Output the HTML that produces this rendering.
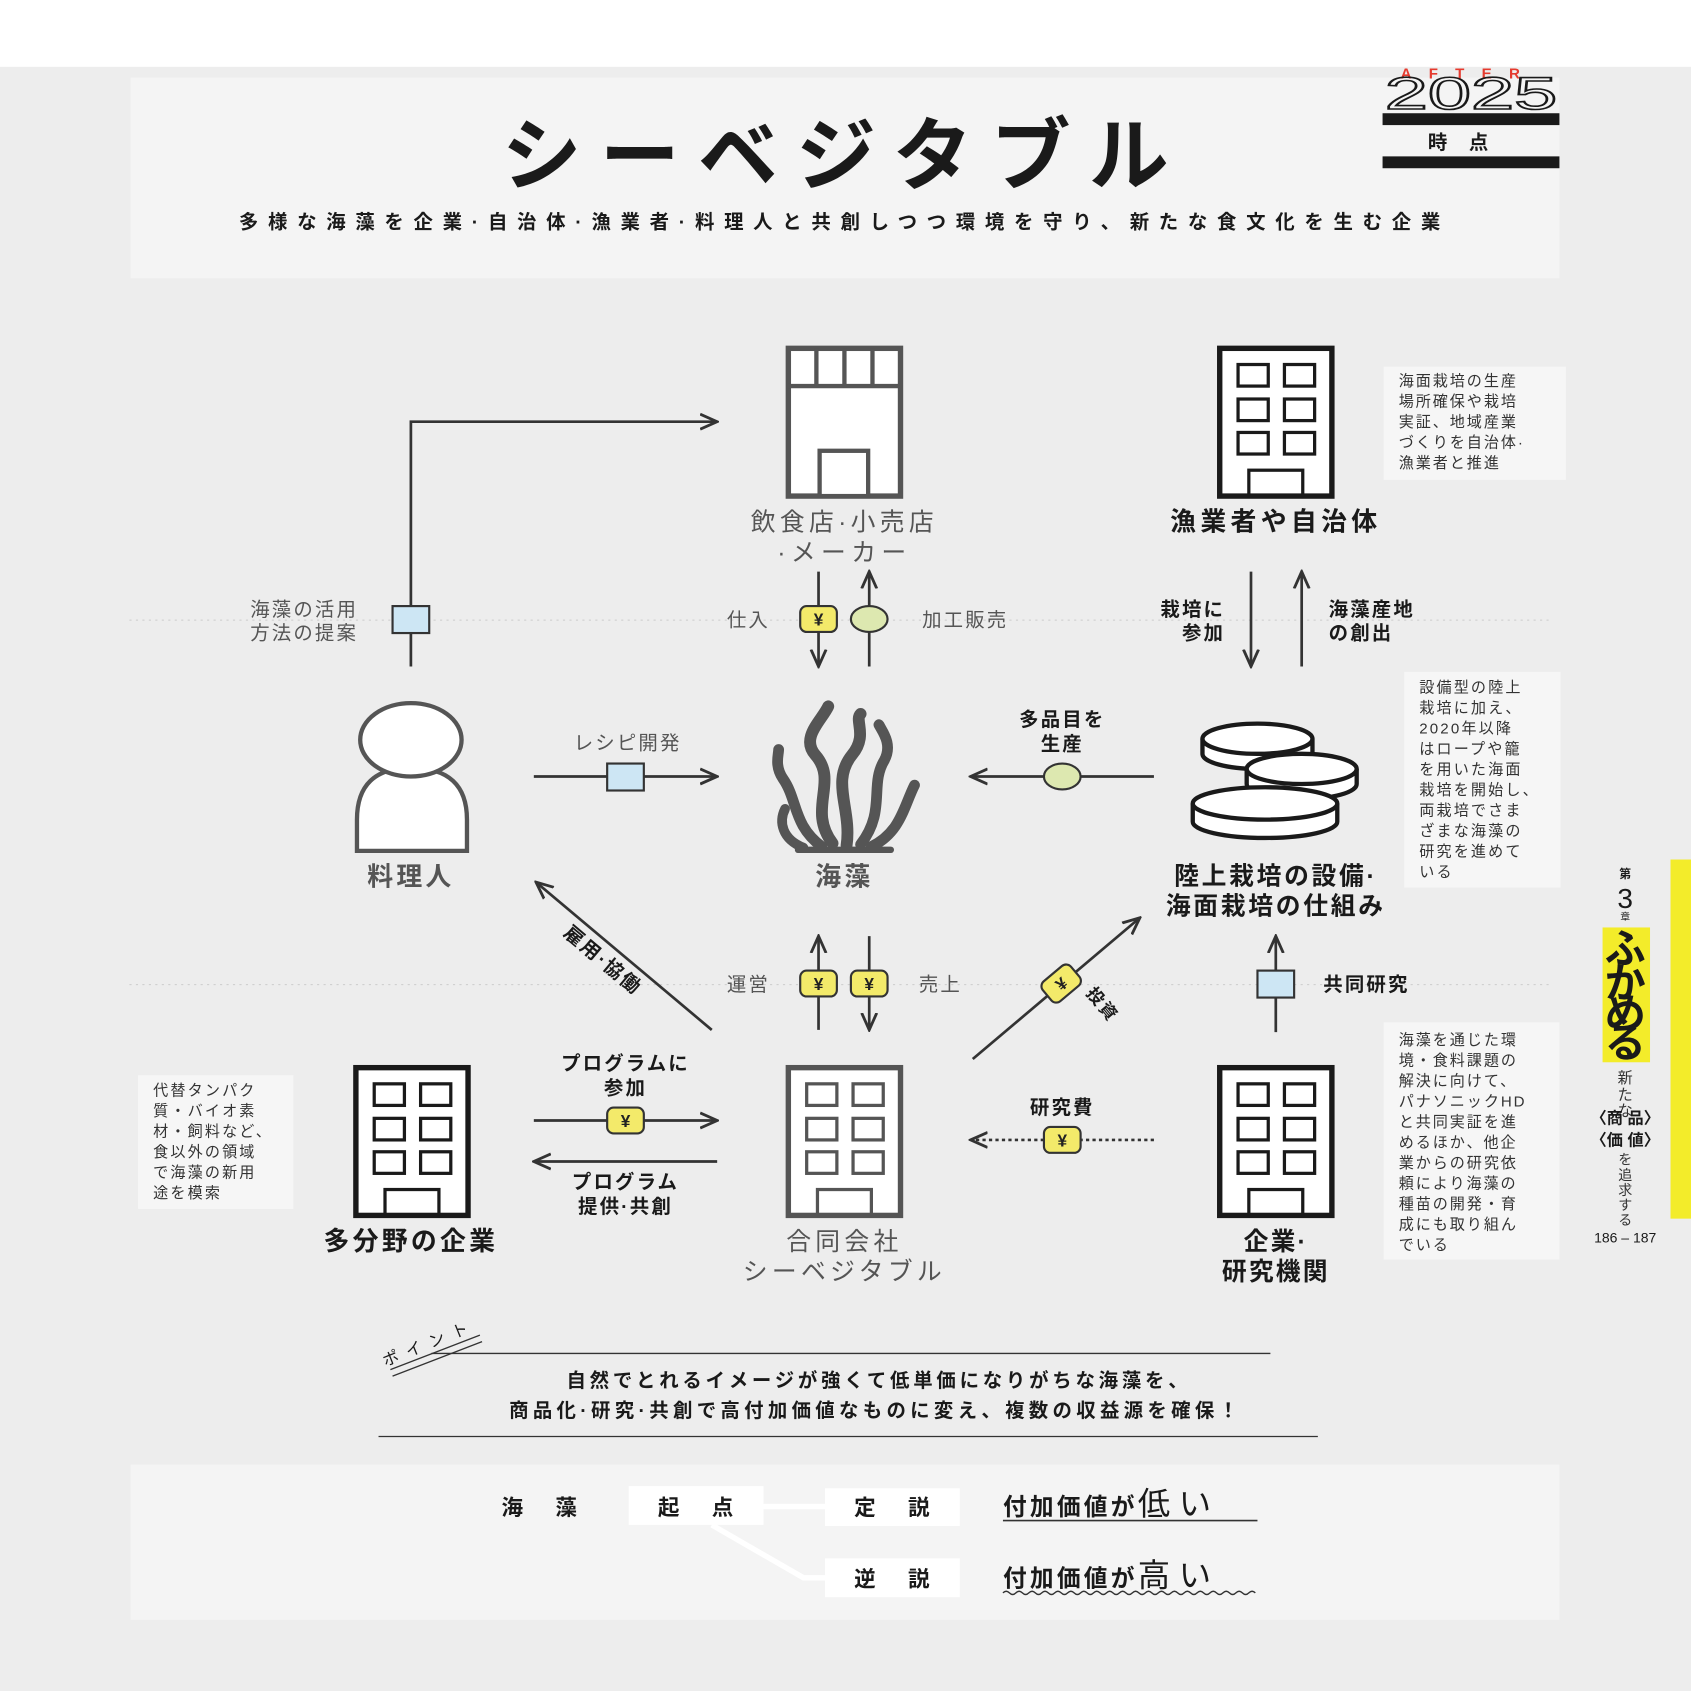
<!DOCTYPE html>
<html><head><meta charset="utf-8"><style>
html,body{margin:0;padding:0;background:#fff;}
svg{display:block;}
text{font-family:"Liberation Sans","Noto Sans CJK JP",sans-serif;}
</style></head><body>
<svg width="1691" height="1691" viewBox="0 0 1568 1568" xmlns="http://www.w3.org/2000/svg">
<defs>
<marker id="ah" viewBox="0 0 10 10" refX="9" refY="5" markerWidth="7" markerHeight="7" orient="auto-start-reverse"><path d="M0,1 L9,5 L0,9" fill="none" stroke="#333" stroke-width="1.5"/></marker>
<g id="yen"><rect x="-17" y="-12" width="34" height="24" rx="6" fill="#f3ea6a" stroke="#333" stroke-width="2"/><text x="0" y="6" font-size="16" font-weight="bold" text-anchor="middle" fill="#222">¥</text></g>
<g id="sq"><rect x="-17" y="-12" width="34" height="25" fill="#cde6f4" stroke="#333" stroke-width="2"/></g>
<g id="circ"><ellipse cx="0" cy="0" rx="17" ry="12" fill="#dde8b0" stroke="#333" stroke-width="2"/></g>
<g id="bld"><rect x="0" y="0" width="104" height="137" fill="#fff" stroke-width="5"/>
<rect x="17" y="15" width="28" height="20" fill="none" stroke-width="3"/><rect x="60" y="15" width="28" height="20" fill="none" stroke-width="3"/>
<rect x="17" y="47" width="28" height="20" fill="none" stroke-width="3"/><rect x="60" y="47" width="28" height="20" fill="none" stroke-width="3"/>
<rect x="17" y="78" width="28" height="20" fill="none" stroke-width="3"/><rect x="60" y="78" width="28" height="20" fill="none" stroke-width="3"/>
<rect x="27" y="113" width="50" height="24" fill="none" stroke-width="3"/></g>
</defs>
<rect x="0" y="62" width="1568" height="1506" fill="#ededed"/>
<rect x="121" y="72" width="1325" height="186" fill="#f4f4f4"/>
<text x="783" y="170" font-size="74" font-weight="bold" text-anchor="middle" letter-spacing="17" fill="#1a1a1a">シーベジタブル</text>
<text x="783" y="212" font-size="18" font-weight="bold" text-anchor="middle" letter-spacing="9" fill="#1a1a1a">多様な海藻を企業·自治体·漁業者·料理人と共創しつつ環境を守り、新たな食文化を生む企業</text>
<text x="1362" y="73" font-size="14" font-weight="bold" text-anchor="middle" letter-spacing="16" fill="#e53a2e">AFTER</text>
<text x="1284" y="101" font-size="42" fill="none" stroke="#1a1a1a" stroke-width="1.5" textLength="160" lengthAdjust="spacingAndGlyphs">2025</text>
<rect x="1282" y="105" width="164" height="11" fill="#1a1a1a"/>
<text x="1362" y="138" font-size="18" font-weight="bold" text-anchor="middle" letter-spacing="20" fill="#1a1a1a">時点</text>
<rect x="1282" y="145" width="164" height="11" fill="#1a1a1a"/>

<line x1="120" y1="575" x2="1440" y2="575" stroke="#ccc" stroke-dasharray="2 4"/>
<line x1="120" y1="913" x2="1440" y2="913" stroke="#ccc" stroke-dasharray="2 4"/>

<g stroke="#555" fill="#fff">
<rect x="731" y="323" width="104" height="137" stroke-width="5"/>
<line x1="731" y1="358" x2="835" y2="358" stroke-width="4"/>
<line x1="757" y1="323" x2="757" y2="358" stroke-width="4"/><line x1="783" y1="323" x2="783" y2="358" stroke-width="4"/><line x1="809" y1="323" x2="809" y2="358" stroke-width="4"/>
<rect x="760" y="418" width="45" height="42" stroke-width="4"/>
</g>
<text x="783" y="492" font-size="23" text-anchor="middle" fill="#555" letter-spacing="4">飲食店·小売店</text>
<text x="783" y="520" font-size="23" text-anchor="middle" fill="#555" letter-spacing="5">·メーカー</text>

<g stroke="#1a1a1a"><use href="#bld" x="1131" y="323"/></g>
<text x="1183" y="492" font-size="24" font-weight="bold" text-anchor="middle" fill="#1a1a1a" letter-spacing="4">漁業者や自治体</text>
<rect x="1283" y="340" width="169" height="105" fill="#f6f6f6"/>
<g font-size="14" fill="#333" letter-spacing="1.8"><text x="1297" y="358">海面栽培の生産</text><text x="1297" y="377">場所確保や栽培</text><text x="1297" y="396">実証、地域産業</text><text x="1297" y="415">づくりを自治体·</text><text x="1297" y="434">漁業者と推進</text></g>

<g stroke="#555" stroke-width="4" fill="#fff">
<path d="M331,789 L331,760 Q331,712 381,712 Q433,712 433,760 L433,789 Z"/>
<ellipse cx="381" cy="686" rx="47" ry="34"/>
</g>
<text x="381" y="821" font-size="24" font-weight="bold" text-anchor="middle" fill="#555" letter-spacing="3">料理人</text>

<g fill="none" stroke="#555" stroke-linecap="round">
<path d="M772,782 C748,750 778,725 756,700 C742,684 762,668 768,655" stroke-width="11"/>
<path d="M785,784 C790,750 770,725 790,700 C805,682 792,668 798,662" stroke-width="11"/>
<path d="M798,783 C822,752 806,728 820,705 C828,690 818,678 815,672" stroke-width="10"/>
<path d="M762,785 C735,765 740,742 726,722 C718,710 722,700 722,695" stroke-width="10"/>
<path d="M808,785 C835,772 838,748 848,728" stroke-width="10"/>
<path d="M745,786 C725,778 722,762 728,750" stroke-width="9"/>
<path d="M740,788 L826,788" stroke-width="6"/>
</g>
<text x="783" y="821" font-size="24" font-weight="bold" text-anchor="middle" fill="#555" letter-spacing="3">海藻</text>

<g stroke="#1a1a1a" stroke-width="4" fill="#fff">
<path d="M1115,685 v14 a51,14 0 0 0 102,0 v-14"/><ellipse cx="1166" cy="685" rx="51" ry="14"/>
<path d="M1156,713 v14 a51,14 0 0 0 102,0 v-14"/><ellipse cx="1207" cy="713" rx="51" ry="14"/>
<path d="M1106,745 v17 a67,15 0 0 0 134,0 v-17"/><ellipse cx="1173" cy="745" rx="67" ry="15"/>
</g>
<text x="1183" y="820" font-size="23" font-weight="bold" text-anchor="middle" fill="#1a1a1a" letter-spacing="2.5">陸上栽培の設備·</text>
<text x="1183" y="848" font-size="23" font-weight="bold" text-anchor="middle" fill="#1a1a1a" letter-spacing="2.5">海面栽培の仕組み</text>
<rect x="1302" y="623" width="145" height="200" fill="#f6f6f6"/>
<g font-size="14" fill="#333" letter-spacing="2"><text x="1316" y="642">設備型の陸上</text><text x="1316" y="661">栽培に加え、</text><text x="1316" y="680">2020年以降</text><text x="1316" y="699">はロープや籠</text><text x="1316" y="718">を用いた海面</text><text x="1316" y="737">栽培を開始し、</text><text x="1316" y="756">両栽培でさま</text><text x="1316" y="775">ざまな海藻の</text><text x="1316" y="794">研究を進めて</text><text x="1316" y="813">いる</text></g>

<g stroke="#1a1a1a"><use href="#bld" x="330" y="990"/></g>
<text x="381" y="1159" font-size="24" font-weight="bold" text-anchor="middle" fill="#1a1a1a" letter-spacing="3">多分野の企業</text>
<g stroke="#555"><use href="#bld" x="731" y="990"/></g>
<text x="783" y="1159" font-size="23" text-anchor="middle" fill="#555" letter-spacing="4">合同会社</text>
<text x="783" y="1187" font-size="23" text-anchor="middle" fill="#555" letter-spacing="4">シーベジタブル</text>
<g stroke="#1a1a1a"><use href="#bld" x="1131" y="990"/></g>
<text x="1183" y="1159" font-size="23" font-weight="bold" text-anchor="middle" fill="#1a1a1a" letter-spacing="2">企業·</text>
<text x="1183" y="1187" font-size="23" font-weight="bold" text-anchor="middle" fill="#1a1a1a" letter-spacing="2">研究機関</text>
<rect x="128" y="997" width="144" height="124" fill="#f6f6f6"/>
<g font-size="14" fill="#333" letter-spacing="2"><text x="142" y="1016">代替タンパク</text><text x="142" y="1035">質・バイオ素</text><text x="142" y="1054">材・飼料など、</text><text x="142" y="1073">食以外の領域</text><text x="142" y="1092">で海藻の新用</text><text x="142" y="1111">途を模索</text></g>
<rect x="1283" y="948" width="163" height="220" fill="#f6f6f6"/>
<g font-size="14" fill="#333" letter-spacing="1.8"><text x="1297" y="969">海藻を通じた環</text><text x="1297" y="988">境・食料課題の</text><text x="1297" y="1007">解決に向けて、</text><text x="1297" y="1026">パナソニックHD</text><text x="1297" y="1045">と共同実証を進</text><text x="1297" y="1064">めるほか、他企</text><text x="1297" y="1083">業からの研究依</text><text x="1297" y="1102">頼により海藻の</text><text x="1297" y="1121">種苗の開発・育</text><text x="1297" y="1140">成にも取り組ん</text><text x="1297" y="1159">でいる</text></g>

<g stroke="#333" stroke-width="2.5" fill="none">
<polyline points="381,618 381,391 665,391" marker-end="url(#ah)"/>
<line x1="759" y1="530" x2="759" y2="618" marker-end="url(#ah)"/>
<line x1="806" y1="618" x2="806" y2="530" marker-end="url(#ah)"/>
<line x1="1160" y1="530" x2="1160" y2="618" marker-end="url(#ah)"/>
<line x1="1207" y1="618" x2="1207" y2="530" marker-end="url(#ah)"/>
<line x1="495" y1="720" x2="665" y2="720" marker-end="url(#ah)"/>
<line x1="1070" y1="720" x2="900" y2="720" marker-end="url(#ah)"/>
<line x1="660" y1="955" x2="497" y2="818" marker-end="url(#ah)"/>
<line x1="759" y1="955" x2="759" y2="868" marker-end="url(#ah)"/>
<line x1="806" y1="868" x2="806" y2="955" marker-end="url(#ah)"/>
<line x1="902" y1="982" x2="1057" y2="851" marker-end="url(#ah)"/>
<line x1="1183" y1="957" x2="1183" y2="868" marker-end="url(#ah)"/>
<line x1="495" y1="1039" x2="665" y2="1039" marker-end="url(#ah)"/>
<line x1="665" y1="1077" x2="495" y2="1077" marker-end="url(#ah)"/>
<line x1="1070" y1="1057" x2="900" y2="1057" stroke-dasharray="3 3" marker-end="url(#ah)"/>
</g>
<use href="#sq" x="381" y="574"/>
<use href="#yen" x="759" y="574"/>
<use href="#circ" x="806" y="574"/>
<use href="#sq" x="580" y="720"/>
<use href="#circ" x="985" y="720"/>
<use href="#yen" x="759" y="912"/>
<use href="#yen" x="806" y="912"/>
<g transform="translate(984,912) rotate(-40)"><use href="#yen"/></g>
<use href="#sq" x="1183" y="912"/>
<use href="#yen" x="580" y="1039"/>
<use href="#yen" x="985" y="1057"/>

<g font-size="18" fill="#555" letter-spacing="2">
<text x="282" y="571" text-anchor="middle">海藻の活用</text><text x="282" y="593" text-anchor="middle">方法の提案</text>
<text x="694" y="581" text-anchor="middle">仕入</text>
<text x="895" y="581" text-anchor="middle">加工販売</text>
<text x="582" y="695" text-anchor="middle">レシピ開発</text>
<text x="694" y="919" text-anchor="middle">運営</text>
<text x="872" y="919" text-anchor="middle">売上</text>
</g>
<g font-size="18" font-weight="bold" fill="#1a1a1a" letter-spacing="2">
<text x="1136" y="571" text-anchor="end">栽培に</text><text x="1136" y="593" text-anchor="end">参加</text>
<text x="1232" y="571">海藻産地</text><text x="1232" y="593">の創出</text>
<text x="985" y="673" text-anchor="middle">多品目を</text><text x="985" y="696" text-anchor="middle">生産</text>
<text x="1227" y="919">共同研究</text>
<text x="580" y="992" text-anchor="middle">プログラムに</text><text x="580" y="1015" text-anchor="middle">参加</text>
<text x="580" y="1102" text-anchor="middle">プログラム</text><text x="580" y="1125" text-anchor="middle">提供·共創</text>
<text x="985" y="1033" text-anchor="middle">研究費</text>
<text x="555" y="895" transform="rotate(40 555 895)" text-anchor="middle">雇用·協働</text>
<text x="1018" y="935" transform="rotate(50 1018 935)" text-anchor="middle" font-size="16">投資</text>
</g>

<rect x="1549" y="797" width="19" height="333" fill="#f3ec2a"/>
<text x="1507" y="814" font-size="11" font-weight="bold" text-anchor="middle" fill="#1a1a1a">第</text>
<text x="1507" y="842" font-size="26" text-anchor="middle" fill="#1a1a1a">3</text>
<text x="1507" y="853" font-size="9" text-anchor="middle" fill="#1a1a1a">章</text>
<rect x="1486" y="860" width="44" height="125" fill="#f3ec2a"/>
<g font-size="38" font-weight="bold" fill="#1a1a1a" text-anchor="middle"><text x="1507" y="893">ふ</text><text x="1507" y="925">か</text><text x="1507" y="953">め</text><text x="1507" y="980">る</text></g>
<g font-size="14" fill="#333" text-anchor="middle"><text x="1507" y="1004">新</text><text x="1507" y="1020">た</text><text x="1507" y="1035">な</text></g>
<text x="1507" y="1042" font-size="15" font-weight="bold" text-anchor="middle" fill="#1a1a1a">〈商 品〉</text>
<text x="1507" y="1062" font-size="15" font-weight="bold" text-anchor="middle" fill="#1a1a1a">〈価 値〉</text>
<g font-size="13" fill="#333" text-anchor="middle"><text x="1507" y="1080">を</text><text x="1507" y="1094">追</text><text x="1507" y="1108">求</text><text x="1507" y="1122">す</text><text x="1507" y="1136">る</text></g>
<text x="1507" y="1152" font-size="13" text-anchor="middle" fill="#1a1a1a">186 – 187</text>

<g stroke="#333" stroke-width="1.2"><line x1="362" y1="1270" x2="445" y2="1238"/><line x1="364" y1="1276" x2="447" y2="1244"/></g>
<text x="400" y="1250" font-size="15" fill="#1a1a1a" transform="rotate(-22 400 1250)" text-anchor="middle" letter-spacing="8">ポイント</text>
<line x1="400" y1="1255" x2="1178" y2="1255" stroke="#333" stroke-width="1.2"/>
<line x1="351" y1="1332" x2="1222" y2="1332" stroke="#333" stroke-width="1.2"/>
<text x="815" y="1286" font-size="18" font-weight="bold" text-anchor="middle" fill="#1a1a1a" letter-spacing="3.5">自然でとれるイメージが強くて低単価になりがちな海藻を、</text>
<text x="812" y="1314" font-size="18" font-weight="bold" text-anchor="middle" fill="#1a1a1a" letter-spacing="4">商品化·研究·共創で高付加価値なものに変え、複数の収益源を確保！</text>

<rect x="121" y="1358" width="1325" height="144" fill="#f4f4f4"/>
<g stroke="#fff" stroke-width="5" fill="none"><line x1="708" y1="1397" x2="765" y2="1397"/><polyline points="660,1414 745,1463 765,1463"/></g>
<rect x="583" y="1378" width="125" height="36" fill="#fff"/>
<rect x="765" y="1380" width="125" height="35" fill="#fff"/>
<rect x="765" y="1445" width="125" height="36" fill="#fff"/>
<g font-size="20" font-weight="bold" fill="#1a1a1a" text-anchor="middle">
<text x="515" y="1405" letter-spacing="30">海藻</text>
<text x="660" y="1405" letter-spacing="30">起点</text>
<text x="842" y="1405" letter-spacing="30">定説</text>
<text x="842" y="1471" letter-spacing="30">逆説</text>
</g>
<text x="930" y="1405" font-size="22" font-weight="bold" fill="#1a1a1a" letter-spacing="3">付加価値が<tspan font-size="30" font-weight="normal" letter-spacing="8">低い</tspan></text>
<line x1="930" y1="1410" x2="1166" y2="1410" stroke="#333" stroke-width="1.5"/>
<text x="930" y="1471" font-size="22" font-weight="bold" fill="#1a1a1a" letter-spacing="3">付加価値が<tspan font-size="30" font-weight="normal" letter-spacing="8">高い</tspan></text>
<path d="M930,1477 q3,-3 6,0 t6,0 t6,0 t6,0 t6,0 t6,0 t6,0 t6,0 t6,0 t6,0 t6,0 t6,0 t6,0 t6,0 t6,0 t6,0 t6,0 t6,0 t6,0 t6,0 t6,0 t6,0 t6,0 t6,0 t6,0 t6,0 t6,0 t6,0 t6,0 t6,0 t6,0 t6,0 t6,0 t6,0 t6,0 t6,0 t6,0 t6,0 t6,0" fill="none" stroke="#333" stroke-width="1.3"/>
</svg>
</body></html>
